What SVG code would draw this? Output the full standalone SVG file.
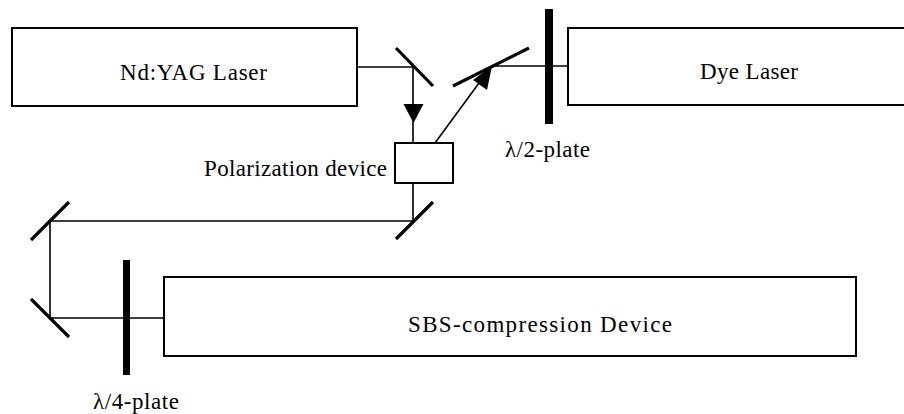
<svg xmlns="http://www.w3.org/2000/svg" width="904" height="414" viewBox="0 0 904 414">
<style>
.box{fill:#fff;stroke:#000;stroke-width:2}
.beam{fill:none;stroke:#000;stroke-width:1.6}
.mirror{stroke:#000;stroke-width:3.2;stroke-linecap:butt}
.plate{fill:#000}
text{font-family:"Liberation Serif","Times New Roman",serif;font-size:23px;fill:#000}
</style>
<g id="connectors">
<path class="beam" d="M357,67 H413 V143"/>
<path d="M403.5,104 L423.5,104 L413.5,123 Z" fill="#000"/>
<path class="beam" d="M435,143 L490,68"/>
<path d="M492,66 L473,80 L487,90 Z" fill="#000"/>
<path class="beam" d="M491,66 H568"/>
<path class="beam" d="M413,183 V221 H50 V318 H164"/>
</g>
<g id="nd-yag-laser">
<rect class="box" x="12" y="28" width="345" height="78"/>
<text x="120" y="80" textLength="147" lengthAdjust="spacing">Nd:YAG Laser</text>
</g>
<g id="dye-laser">
<rect class="box" x="568" y="28" width="340" height="77"/>
<text x="700" y="79" textLength="98" lengthAdjust="spacing">Dye Laser</text>
</g>
<g id="polarization-device">
<rect class="box" x="395" y="143" width="58" height="40"/>
<text x="204" y="176" textLength="183" lengthAdjust="spacing">Polarization device</text>
</g>
<g id="sbs-compression-device">
<rect class="box" x="164" y="277" width="692" height="79"/>
<text x="408" y="332" textLength="264" lengthAdjust="spacing">SBS-compression Device</text>
</g>
<g id="mirror-1"><line class="mirror" x1="396" y1="48" x2="433" y2="86"/></g>
<g id="mirror-2"><line class="mirror" x1="453" y1="86" x2="529" y2="48"/></g>
<g id="mirror-3"><line class="mirror" x1="396" y1="239" x2="433" y2="202"/></g>
<g id="mirror-4"><line class="mirror" x1="31" y1="240" x2="69" y2="202"/></g>
<g id="mirror-5"><line class="mirror" x1="31" y1="299" x2="69" y2="337"/></g>
<g id="half-wave-plate">
<rect class="plate" x="545" y="9" width="8" height="115"/>
<text x="505" y="157" textLength="85" lengthAdjust="spacing">λ/2-plate</text>
</g>
<g id="quarter-wave-plate">
<rect class="plate" x="123" y="260" width="7" height="115"/>
<text x="93" y="409" textLength="86" lengthAdjust="spacing">λ/4-plate</text>
</g>
</svg>
